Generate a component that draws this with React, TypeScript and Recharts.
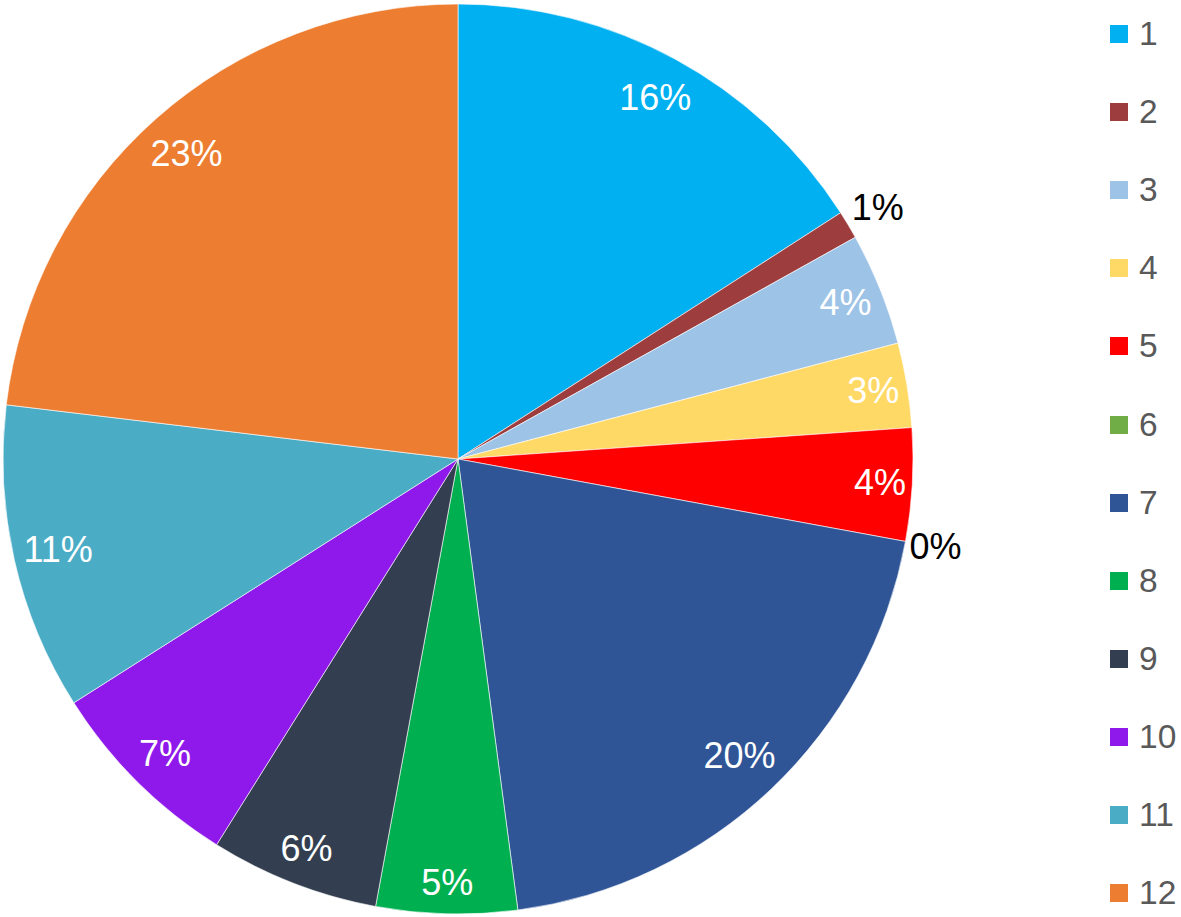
import { PieChart, Pie, Cell, Legend } from "recharts";

const categories = ["1", "2", "3", "4", "5", "6", "7", "8", "9", "10", "11", "12"];
const shares = [15.9, 1.0, 4.0, 3.0, 4.0, 0, 20.0, 5.0, 6.0, 7.1, 10.9, 23.1];
const colors = [
  "#00B0F0",
  "#9E3D3D",
  "#9DC3E6",
  "#FFD966",
  "#FF0000",
  "#70AD47",
  "#2F5597",
  "#00B050",
  "#333F50",
  "#8E19EA",
  "#4BACC6",
  "#ED7D31",
];

const data = categories.map((name, i) => ({ name, value: shares[i] }));

const FONT = '"Liberation Sans", Arial, sans-serif';
const LABEL_SIZE = 36;
const RAD = Math.PI / 180;

function renderLabel(props: any) {
  const { cx, cy, midAngle, outerRadius, percent, index } = props;
  const text = `${Math.round(percent * 100)}%`;
  const w = text.length * 0.56 * LABEL_SIZE;
  const h = 40;
  const cos = Math.cos(-midAngle * RAD);
  const sin = Math.sin(-midAngle * RAD);
  // half extent of the text box along the radial direction
  const ext = Math.abs((w / 2) * cos) + Math.abs((h / 2) * sin);
  const outside = percent < 0.02;
  const r = outside ? outerRadius + 7 + ext : outerRadius - 11 - ext;
  return (
    <text
      key={`lbl-${index}`}
      x={cx + r * cos}
      y={cy + r * sin}
      fill={outside ? "#000000" : "#FFFFFF"}
      textAnchor="middle"
      dominantBaseline="central"
      fontSize={LABEL_SIZE}
      fontFamily={FONT}
    >
      {text}
    </text>
  );
}

function LegendList() {
  return (
    <div style={{ position: "relative", width: 71, height: 917 }}>
      {categories.map((c, i) => (
        <div
          key={c}
          style={{
            position: "absolute",
            left: 0,
            top: 34 + i * 78.1 - 20,
            height: 40,
            display: "flex",
            alignItems: "center",
          }}
        >
          <span
            style={{
              display: "inline-block",
              width: 18,
              height: 18,
              background: colors[i],
              marginRight: 11,
            }}
          />
          <span style={{ fontFamily: FONT, fontSize: 33.5, color: "#595959" }}>{c}</span>
        </div>
      ))}
    </div>
  );
}

export default function App() {
  return (
    <div style={{ width: 1181, height: 917, background: "#fff" }}>
      <style>{`body{margin:0;}`}</style>
      <PieChart width={1181} height={917} margin={{ top: 0, right: 0, bottom: 0, left: 0 }}>
        <Pie
          data={data}
          dataKey="value"
          nameKey="name"
          cx={458}
          cy={459}
          outerRadius={455}
          startAngle={90}
          endAngle={-270}
          stroke="#FFFFFF"
          strokeWidth={0.6}
          label={renderLabel}
          labelLine={false}
          isAnimationActive={false}
        >
          {data.map((d, i) => (
            <Cell key={`cell-${i}`} fill={colors[i]} />
          ))}
        </Pie>
        <Legend
          layout="vertical"
          align="right"
          verticalAlign="top"
          wrapperStyle={{ left: 1110, top: 0, width: 71 }}
          content={() => <LegendList />}
        />
      </PieChart>
    </div>
  );
}
